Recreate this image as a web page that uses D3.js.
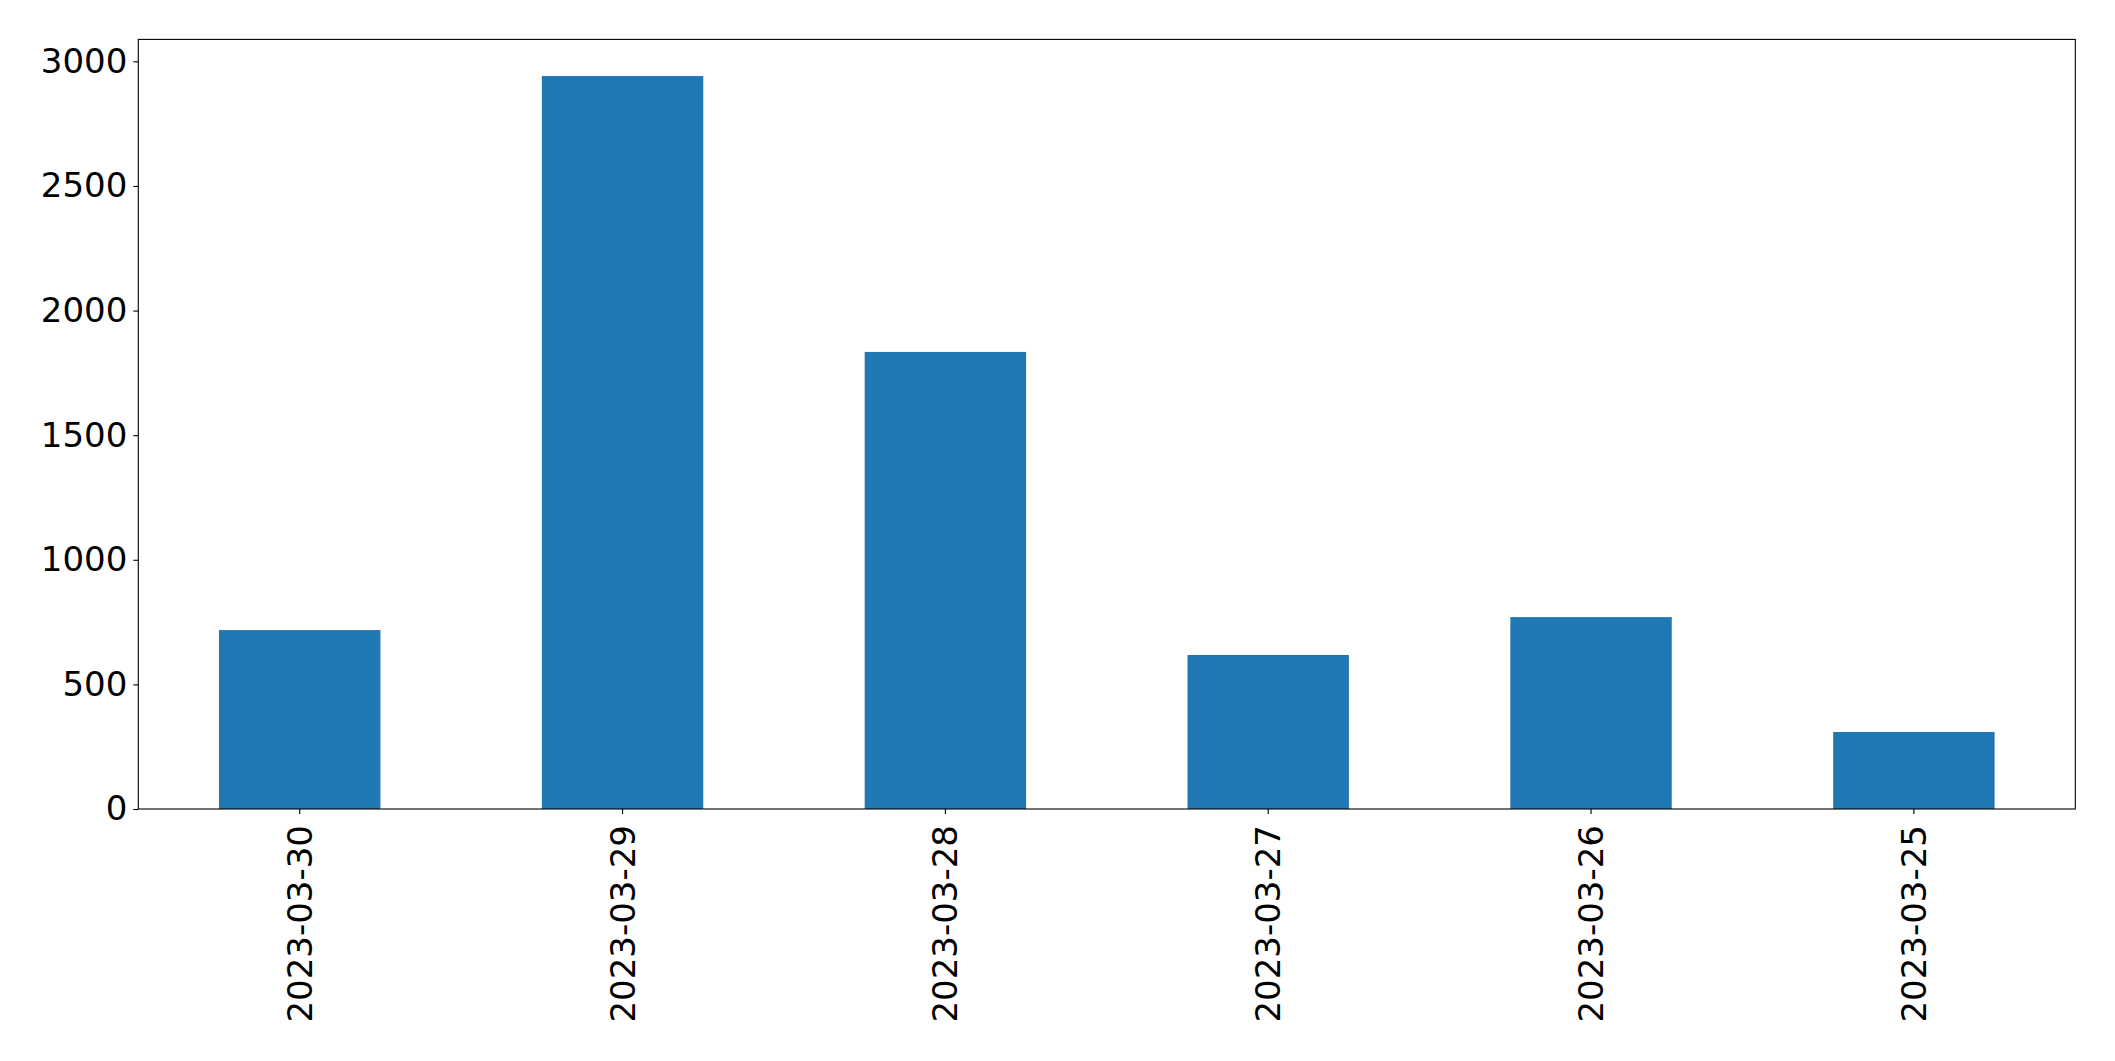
<!DOCTYPE html>
<html>
<head>
<meta charset="utf-8">
<script src="https://cdn.jsdelivr.net/npm/d3@7"></script>
<style>
  html, body { margin: 0; padding: 0; background: #fff; }
  svg { display: block; }
  text { font-family: "DejaVu Sans", sans-serif; fill: #000; }
</style>
</head>
<body>
<svg id="chart" width="2115" height="1061"></svg>
<script>
const categories = ["2023-03-30", "2023-03-29", "2023-03-28", "2023-03-27", "2023-03-26", "2023-03-25"];
const values = [718, 2941, 1834, 618, 770, 309];
const yTicks = [0, 500, 1000, 1500, 2000, 2500, 3000];

const W = 2115, H = 1061;
const margin = { left: 138.3, right: W - 2075.3, top: 39.4, bottom: H - 809 };
const plotW = W - margin.left - margin.right;
const plotH = H - margin.top - margin.bottom;

const svg = d3.select("#chart");
const g = svg.append("g").attr("transform", `translate(${margin.left},${margin.top})`);

const x = d3.scaleBand().domain(categories).range([0, plotW]).paddingInner(0.5).paddingOuter(0.25);
const y = d3.scaleLinear().domain([0, d3.max(values) * 1.05]).range([plotH, 0]);

g.selectAll("rect.bar").data(values).enter().append("rect")
  .attr("class", "bar")
  .attr("x", (d, i) => x(categories[i]))
  .attr("width", x.bandwidth())
  .attr("y", d => y(d))
  .attr("height", d => y(0) - y(d))
  .attr("fill", "#1f77b4");

const fs = 34;

const yAxis = g.append("g")
  .call(d3.axisLeft(y).tickValues(yTicks).tickSize(5).tickPadding(6).tickFormat(d3.format("d")));
yAxis.select(".domain").remove();
yAxis.selectAll("line").attr("stroke", "#000").attr("stroke-width", 1.1);
yAxis.selectAll("text").style("font-size", fs + "px").attr("font-family", "DejaVu Sans");

const xAxis = g.append("g").attr("transform", `translate(0,${plotH})`)
  .call(d3.axisBottom(x).tickSize(5).tickPadding(0));
xAxis.select(".domain").remove();
xAxis.selectAll("line").attr("stroke", "#000").attr("stroke-width", 1.1);
xAxis.selectAll("text")
  .style("font-size", fs + "px")
  .attr("font-family", "DejaVu Sans")
  .attr("text-anchor", "end")
  .attr("dominant-baseline", "central")
  .attr("dy", null)
  .attr("y", 0)
  .attr("x", 0)
  .attr("transform", "translate(0,16) rotate(-90)");

g.append("rect")
  .attr("x", 0).attr("y", 0)
  .attr("width", plotW).attr("height", plotH)
  .attr("fill", "none").attr("stroke", "#000").attr("stroke-width", 1.1);
</script>
</body>
</html>
